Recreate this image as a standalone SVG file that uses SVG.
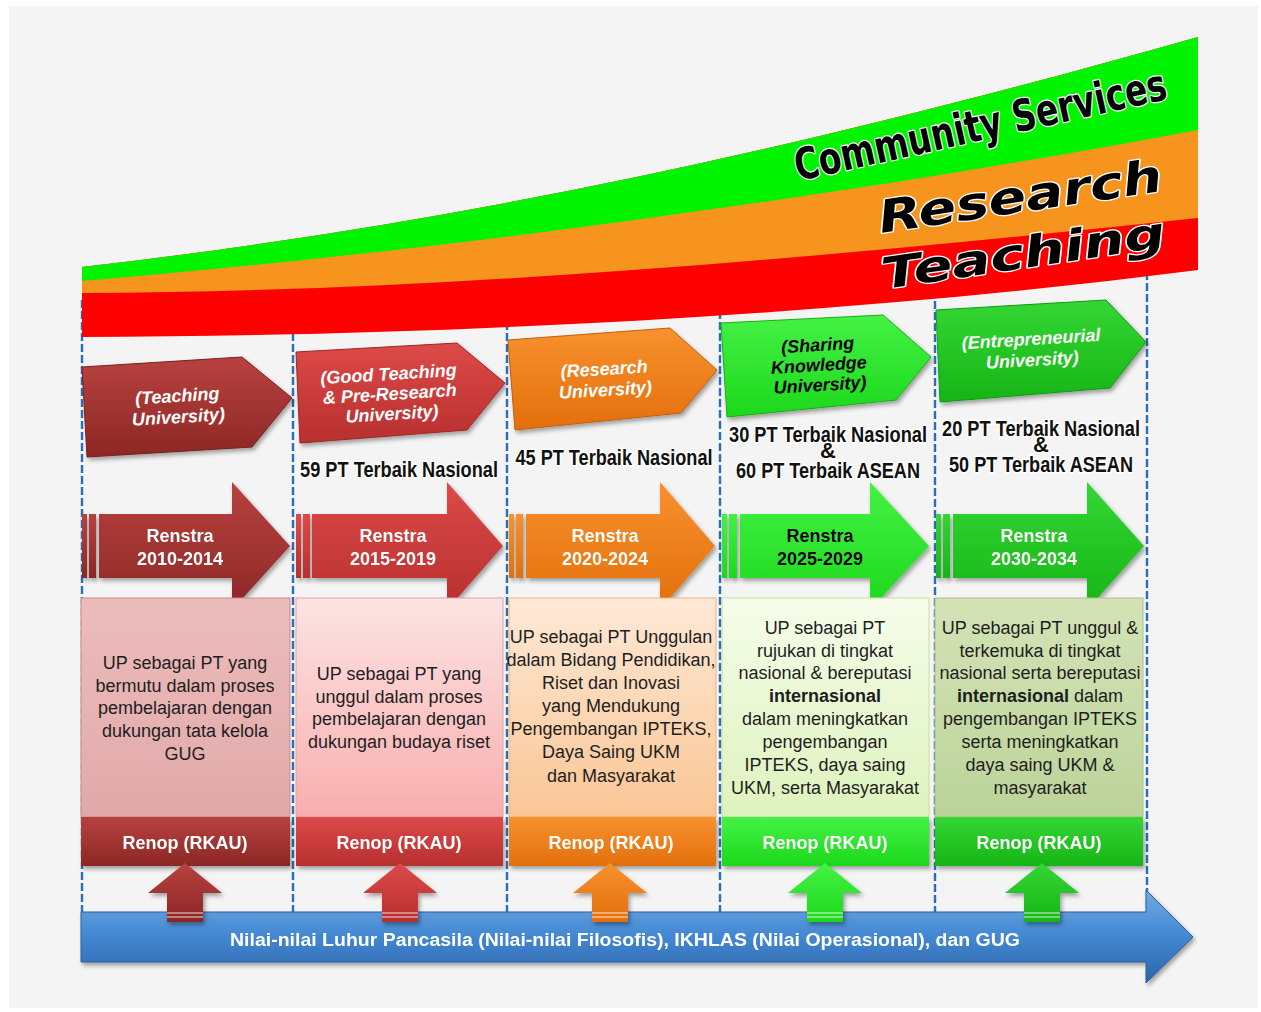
<svg xmlns="http://www.w3.org/2000/svg" width="1261" height="1012" viewBox="0 0 1261 1012">
<defs>
<style>
.band{font-family:"DejaVu Sans",sans-serif;fill:#000;stroke:#fff;stroke-width:2.5;paint-order:stroke;stroke-linejoin:round}
.tt{font-family:"Liberation Sans",Arial,sans-serif;font-weight:bold;font-style:italic;font-size:18px;text-anchor:middle}
.w{fill:#fff}
.k{fill:#000}
.ren{font-family:"Liberation Sans",Arial,sans-serif;font-weight:bold;font-size:18px;text-anchor:middle}
.box{font-family:"Liberation Sans",Arial,sans-serif;font-size:18px;fill:#1e1e1e;text-anchor:middle}
.pt{font-family:"Liberation Sans",Arial,sans-serif;font-weight:bold;font-size:22px;fill:#111;stroke:#fff;stroke-width:3;paint-order:stroke;stroke-linejoin:round;text-anchor:middle}
.dash{stroke:#2a6ebb;stroke-width:2.4;stroke-dasharray:8 3;fill:none}
.stripe{stroke:#fff;stroke-opacity:.55;stroke-width:1.5}
</style>
<filter id="sh" x="-10%" y="-10%" width="125%" height="130%"><feDropShadow dx="2" dy="3" stdDeviation="2" flood-color="#000" flood-opacity="0.35"/></filter>
<linearGradient id="g1" x1="0" y1="0" x2="0" y2="1"><stop offset="0" stop-color="#b8423f"/><stop offset="1" stop-color="#8c2725"/></linearGradient>
<linearGradient id="g2" x1="0" y1="0" x2="0" y2="1"><stop offset="0" stop-color="#dd4a48"/><stop offset="1" stop-color="#b82f2f"/></linearGradient>
<linearGradient id="g3" x1="0" y1="0" x2="0" y2="1"><stop offset="0" stop-color="#f8912e"/><stop offset="1" stop-color="#e36f0c"/></linearGradient>
<linearGradient id="g4" x1="0" y1="0" x2="0" y2="1"><stop offset="0" stop-color="#44f244"/><stop offset="1" stop-color="#1cd81c"/></linearGradient>
<linearGradient id="g5" x1="0" y1="0" x2="0" y2="1"><stop offset="0" stop-color="#34d634"/><stop offset="1" stop-color="#16b516"/></linearGradient>
<linearGradient id="b1" x1="0" y1="0" x2="0" y2="1"><stop offset="0" stop-color="#ecbcbc"/><stop offset="1" stop-color="#e1a9a9"/></linearGradient>
<linearGradient id="b2" x1="0" y1="0" x2="0" y2="1"><stop offset="0" stop-color="#fde3e3"/><stop offset="1" stop-color="#f9aeae"/></linearGradient>
<linearGradient id="b3" x1="0" y1="0" x2="0" y2="1"><stop offset="0" stop-color="#fee9d6"/><stop offset="1" stop-color="#fac695"/></linearGradient>
<linearGradient id="b4" x1="0" y1="0" x2="0" y2="1"><stop offset="0" stop-color="#f6fdea"/><stop offset="1" stop-color="#ddf3bd"/></linearGradient>
<linearGradient id="b5" x1="0" y1="0" x2="0" y2="1"><stop offset="0" stop-color="#d3e3b6"/><stop offset="1" stop-color="#bcd39a"/></linearGradient>
<linearGradient id="blue" x1="0" y1="0" x2="0" y2="1"><stop offset="0" stop-color="#74abe2"/><stop offset="0.5" stop-color="#4287d2"/><stop offset="1" stop-color="#2c65a8"/></linearGradient>
</defs>

<rect width="1261" height="1012" fill="#ffffff"/>
<rect x="9" y="6" width="1249" height="1002" fill="#f4f4f4"/>

<g id="connectors">
<line class="dash" x1="82" y1="300" x2="82" y2="912"/>
<line class="dash" x1="293" y1="300" x2="293" y2="912"/>
<line class="dash" x1="507" y1="300" x2="507" y2="912"/>
<line class="dash" x1="720" y1="300" x2="720" y2="912"/>
<line class="dash" x1="935" y1="290" x2="935" y2="912"/>
<line class="dash" x1="1147" y1="250" x2="1147" y2="912"/>
</g>

<g id="band">
<path d="M82,267 C450,225 800,150 1198,37 L1198,270 C850,315 450,336 82,337 Z" fill="#ff0000"/>
<path d="M82,267 C450,225 800,150 1198,37 L1198,218 C850,255 450,292 82,293 Z" fill="#f7941d"/>
<path d="M82,267 C450,225 800,150 1198,37 L1198,130 C850,195 450,250 82,281 Z" fill="#00f400"/>
<text class="band" x="798" y="181" font-size="44" font-weight="bold" font-stretch="condensed" textLength="380" lengthAdjust="spacingAndGlyphs" transform="rotate(-12.5 798 181)">Community Services</text>
<text class="band" x="881" y="233" font-size="45" font-weight="bold" font-style="oblique" textLength="286" lengthAdjust="spacingAndGlyphs" transform="rotate(-8.5 881 233)">Research</text>
<text class="band" x="884" y="289" font-size="43" font-weight="bold" font-style="oblique" textLength="286" lengthAdjust="spacingAndGlyphs" transform="rotate(-8.5 884 289)">Teaching</text>
</g>

<g id="stage1">
<polygon points="82,367 242,357 292,398 252,447 87,457" fill="url(#g1)" stroke="#7a1f1d" stroke-width="1" filter="url(#sh)"/>
<text class="tt w" transform="rotate(-3.5 178 410)"><tspan x="178" y="402">(Teaching</tspan><tspan x="178" y="423">University)</tspan></text>
</g>
<g id="stage2">
<polygon points="296,352 457,343 505,383 467,430 300,443" fill="url(#g2)" stroke="#9c2626" stroke-width="1" filter="url(#sh)"/>
<text class="tt w" transform="rotate(-3.5 390 398)"><tspan x="390" y="380">(Good Teaching</tspan><tspan x="390" y="400">&amp; Pre-Research</tspan><tspan x="391" y="420">University)</tspan></text>
</g>
<g id="stage3">
<polygon points="508,340 670,328 717,370 681,413 515,430" fill="url(#g3)" stroke="#c55e08" stroke-width="1" filter="url(#sh)"/>
<text class="tt w" transform="rotate(-3.5 605 384)"><tspan x="605" y="375">(Research</tspan><tspan x="605" y="396">University)</tspan></text>
</g>
<g id="stage4">
<polygon points="721,323 883,315 931,357 896,400 727,417" fill="url(#g4)" stroke="#17b017" stroke-width="1" filter="url(#sh)"/>
<text class="tt k" transform="rotate(-3.5 819 368)"><tspan x="819" y="351">(Sharing</tspan><tspan x="819" y="371">Knowledge</tspan><tspan x="819" y="391">University)</tspan></text>
</g>
<g id="stage5">
<polygon points="936,310 1106,300 1146,342 1110,388 940,402" fill="url(#g5)" stroke="#129a12" stroke-width="1" filter="url(#sh)"/>
<text class="tt w" transform="rotate(-3.5 1032 355)"><tspan x="1032" y="345">(Entrepreneurial</tspan><tspan x="1032" y="366">University)</tspan></text>
</g>

<g id="targets">
<text class="pt" x="399" y="477" textLength="198" lengthAdjust="spacingAndGlyphs">59 PT Terbaik Nasional</text>
<text class="pt" x="614" y="465" textLength="197" lengthAdjust="spacingAndGlyphs">45 PT Terbaik Nasional</text>
<text class="pt" x="828" y="442" textLength="198" lengthAdjust="spacingAndGlyphs">30 PT Terbaik Nasional</text>
<text class="pt" x="828" y="458" font-size="18">&amp;</text>
<text class="pt" x="828" y="478" textLength="184" lengthAdjust="spacingAndGlyphs">60 PT Terbaik ASEAN</text>
<text class="pt" x="1041" y="436" textLength="198" lengthAdjust="spacingAndGlyphs">20 PT Terbaik Nasional</text>
<text class="pt" x="1041" y="452" font-size="18">&amp;</text>
<text class="pt" x="1041" y="472" textLength="184" lengthAdjust="spacingAndGlyphs">50 PT Terbaik ASEAN</text>
</g>

<g id="renstra1" filter="url(#sh)">
<rect x="82" y="514" width="5" height="64" fill="url(#g1)"/><rect x="89" y="514" width="7" height="64" fill="url(#g1)"/>
<path d="M99,514 H232 V482 L290,546 L232,610 V578 H99 Z" fill="url(#g1)"/>
<text class="ren w"><tspan x="180" y="542">Renstra</tspan><tspan x="180" y="565">2010-2014</tspan></text>
</g>
<g id="renstra2" filter="url(#sh)">
<rect x="296" y="514" width="5" height="64" fill="url(#g2)"/><rect x="303" y="514" width="7" height="64" fill="url(#g2)"/>
<path d="M312,514 H447 V482 L503,546 L447,610 V578 H312 Z" fill="url(#g2)"/>
<text class="ren w"><tspan x="393" y="542">Renstra</tspan><tspan x="393" y="565">2015-2019</tspan></text>
</g>
<g id="renstra3" filter="url(#sh)">
<rect x="509" y="514" width="5" height="64" fill="url(#g3)"/><rect x="516" y="514" width="7" height="64" fill="url(#g3)"/>
<path d="M526,514 H660 V482 L715,546 L660,610 V578 H526 Z" fill="url(#g3)"/>
<text class="ren w"><tspan x="605" y="542">Renstra</tspan><tspan x="605" y="565">2020-2024</tspan></text>
</g>
<g id="renstra4" filter="url(#sh)">
<rect x="722" y="514" width="5" height="64" fill="url(#g4)"/><rect x="729" y="514" width="8" height="64" fill="url(#g4)"/>
<path d="M740,514 H870 V482 L929,546 L870,610 V578 H740 Z" fill="url(#g4)"/>
<text class="ren k"><tspan x="820" y="542">Renstra</tspan><tspan x="820" y="565">2025-2029</tspan></text>
</g>
<g id="renstra5" filter="url(#sh)">
<rect x="936" y="514" width="5" height="64" fill="url(#g5)"/><rect x="943" y="514" width="7" height="64" fill="url(#g5)"/>
<path d="M953,514 H1087 V482 L1144,546 L1087,610 V578 H953 Z" fill="url(#g5)"/>
<text class="ren w"><tspan x="1034" y="542">Renstra</tspan><tspan x="1034" y="565">2030-2034</tspan></text>
</g>

<g id="goal1">
<rect x="81" y="598" width="209" height="219" fill="url(#b1)" stroke="#c98b8b" stroke-width="1"/>
<text class="box"><tspan x="185" y="669">UP sebagai PT yang</tspan><tspan x="185" y="692">bermutu dalam proses</tspan><tspan x="185" y="714">pembelajaran dengan</tspan><tspan x="185" y="737">dukungan tata kelola</tspan><tspan x="185" y="760">GUG</tspan></text>
</g>
<g id="goal2">
<rect x="296" y="598" width="207" height="219" fill="url(#b2)" stroke="#e5a0a0" stroke-width="1"/>
<text class="box"><tspan x="399" y="680">UP sebagai PT yang</tspan><tspan x="399" y="703">unggul dalam proses</tspan><tspan x="399" y="725">pembelajaran dengan</tspan><tspan x="399" y="748">dukungan budaya riset</tspan></text>
</g>
<g id="goal3">
<rect x="509" y="598" width="207" height="219" fill="url(#b3)" stroke="#f0b27a" stroke-width="1"/>
<text class="box"><tspan x="611" y="643">UP sebagai PT Unggulan</tspan><tspan x="611" y="666">dalam Bidang Pendidikan,</tspan><tspan x="611" y="689">Riset dan Inovasi</tspan><tspan x="611" y="712">yang Mendukung</tspan><tspan x="611" y="735">Pengembangan IPTEKS,</tspan><tspan x="611" y="758">Daya Saing UKM</tspan><tspan x="611" y="782">dan Masyarakat</tspan></text>
</g>
<g id="goal4">
<rect x="722" y="598" width="207" height="219" fill="url(#b4)" stroke="#c6e09a" stroke-width="1"/>
<text class="box"><tspan x="825" y="634">UP sebagai PT</tspan><tspan x="825" y="657">rujukan di tingkat</tspan><tspan x="825" y="679">nasional &amp; bereputasi</tspan><tspan x="825" y="702" font-weight="bold">internasional</tspan><tspan x="825" y="725">dalam meningkatkan</tspan><tspan x="825" y="748">pengembangan</tspan><tspan x="825" y="771">IPTEKS, daya saing</tspan><tspan x="825" y="794">UKM, serta Masyarakat</tspan></text>
</g>
<g id="goal5">
<rect x="935" y="598" width="208" height="219" fill="url(#b5)" stroke="#a9c382" stroke-width="1"/>
<text class="box"><tspan x="1040" y="634">UP sebagai PT unggul &amp;</tspan><tspan x="1040" y="657">terkemuka di tingkat</tspan><tspan x="1040" y="679">nasional serta bereputasi</tspan><tspan x="1040" y="702"><tspan font-weight="bold">internasional</tspan> dalam</tspan><tspan x="1040" y="725">pengembangan IPTEKS</tspan><tspan x="1040" y="748">serta meningkatkan</tspan><tspan x="1040" y="771">daya saing UKM &amp;</tspan><tspan x="1040" y="794">masyarakat</tspan></text>
</g>

<g id="renop1" filter="url(#sh)">
<rect x="81" y="817" width="209" height="49" fill="url(#g1)"/>
<text class="ren w" x="185" y="849">Renop (RKAU)</text>
</g>
<g id="renop2" filter="url(#sh)">
<rect x="296" y="817" width="207" height="49" fill="url(#g2)"/>
<text class="ren w" x="399" y="849">Renop (RKAU)</text>
</g>
<g id="renop3" filter="url(#sh)">
<rect x="509" y="817" width="207" height="49" fill="url(#g3)"/>
<text class="ren w" x="611" y="849">Renop (RKAU)</text>
</g>
<g id="renop4" filter="url(#sh)">
<rect x="722" y="817" width="207" height="49" fill="url(#g4)"/>
<text class="ren w" x="825" y="849">Renop (RKAU)</text>
</g>
<g id="renop5" filter="url(#sh)">
<rect x="935" y="817" width="208" height="49" fill="url(#g5)"/>
<text class="ren w" x="1039" y="849">Renop (RKAU)</text>
</g>

<g id="values" filter="url(#sh)">
<path d="M81,912 H1146 V890 L1193,937 L1146,983 V962 H81 Z" fill="url(#blue)" stroke="#2a5f9e" stroke-width="1"/>
<text class="ren w" x="625" y="946" font-size="19" textLength="790" lengthAdjust="spacingAndGlyphs">Nilai-nilai Luhur Pancasila (Nilai-nilai Filosofis), IKHLAS (Nilai Operasional), dan GUG</text>
</g>

<g id="uparrows" filter="url(#sh)">
<path d="M185,863 L222,893 H203 V922 H167 V893 H148 Z" fill="url(#g1)"/>
<line class="stripe" x1="167" y1="913" x2="203" y2="913"/><line class="stripe" x1="167" y1="917" x2="203" y2="917"/>
<path d="M400,863 L437,893 H418 V922 H382 V893 H363 Z" fill="url(#g2)"/>
<line class="stripe" x1="382" y1="913" x2="418" y2="913"/><line class="stripe" x1="382" y1="917" x2="418" y2="917"/>
<path d="M610,863 L647,893 H628 V922 H592 V893 H573 Z" fill="url(#g3)"/>
<line class="stripe" x1="592" y1="913" x2="628" y2="913"/><line class="stripe" x1="592" y1="917" x2="628" y2="917"/>
<path d="M825,863 L862,893 H843 V922 H807 V893 H788 Z" fill="url(#g4)"/>
<line class="stripe" x1="807" y1="913" x2="843" y2="913"/><line class="stripe" x1="807" y1="917" x2="843" y2="917"/>
<path d="M1042,863 L1079,893 H1060 V922 H1024 V893 H1005 Z" fill="url(#g5)"/>
<line class="stripe" x1="1024" y1="913" x2="1060" y2="913"/><line class="stripe" x1="1024" y1="917" x2="1060" y2="917"/>
</g>
</svg>
